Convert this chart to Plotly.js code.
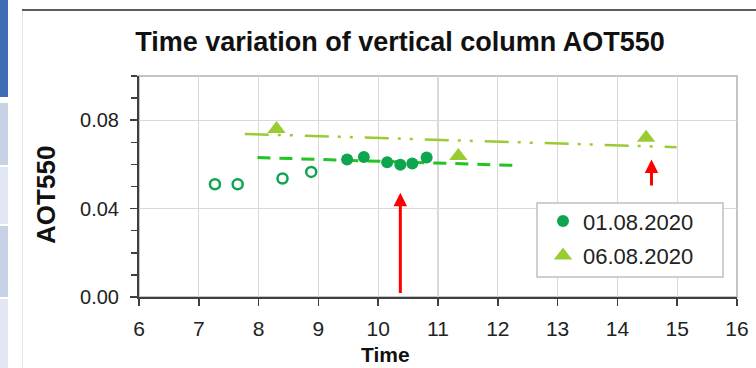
<!DOCTYPE html>
<html>
<head>
<meta charset="utf-8">
<script src="https://cdn.plot.ly/plotly-3.0.1.min.js"></script>
<style>
  html, body { margin: 0; padding: 0; background: #ffffff; }
  #wrap { position: relative; width: 756px; height: 368px; overflow: hidden; background: #ffffff; }
  .deco { position: absolute; }
  #chart { position: absolute; left: 0; top: 0; width: 756px; height: 368px; }
</style>
</head>
<body>
<div id="wrap">
  <div class="deco" style="left:0;top:0;width:8px;height:97px;background:#3f6db5;"></div>
  <div class="deco" style="left:0;top:103px;width:8px;height:62px;background:#c8d2e7;"></div>
  <div class="deco" style="left:0;top:167px;width:8px;height:57px;background:#e0e6f2;"></div>
  <div class="deco" style="left:0;top:226px;width:8px;height:71px;background:#c8d2e7;"></div>
  <div class="deco" style="left:0;top:299px;width:8px;height:69px;background:#e2e7f3;"></div>
  <div class="deco" style="left:22px;top:10px;width:1px;height:358px;background:#e6e6e6;"></div>
  <div class="deco" style="left:22px;top:9px;width:734px;height:2px;background:#5a5a5a;"></div>
  <div id="chart"></div>
</div>
<script>
// ---- data ----
var series1Name = '01.08.2020';
var series2Name = '06.08.2020';

// 01.08.2020 filled points
var s1Time = [9.48, 9.76, 10.15, 10.37, 10.57, 10.81];
var s1Aot  = [0.0622, 0.0634, 0.0610, 0.0598, 0.0604, 0.0631];

// 01.08.2020 open (early) points
var s1OpenTime = [7.27, 7.65, 8.40, 8.88];
var s1OpenAot  = [0.0510, 0.0510, 0.0536, 0.0566];

// 06.08.2020 points
var s2Time = [8.30, 11.34, 14.48];
var s2Aot  = [0.0760, 0.0638, 0.0721];

// trend lines (end points as drawn)
var trend1Time = [7.98, 12.32];
var trend1Aot  = [0.0631, 0.0595];
var trend2Time = [7.77, 14.99];
var trend2Aot  = [0.0738, 0.0678];

// red arrows: x, tail value, head value
var arrowTime = [10.37, 14.57];
var arrowTail = [0.0011, 0.0498];
var arrowHead = [0.0472, 0.0622];

var xTickVals = [6, 7, 8, 9, 10, 11, 12, 13, 14, 15, 16];

var font = 'Liberation Sans, Arial, Helvetica, sans-serif';

var traces = [
  {
    x: trend2Time, y: trend2Aot, mode: 'lines', showlegend: false, hoverinfo: 'skip',
    line: { color: '#99cc33', width: 2.5, dash: '24px,9px,3px,9px,3px,12px' }
  },
  {
    x: trend1Time, y: trend1Aot, mode: 'lines', showlegend: false, hoverinfo: 'skip',
    line: { color: '#22c322', width: 3, dash: '13px,9px' }
  },
  {
    x: s1OpenTime, y: s1OpenAot, mode: 'markers', showlegend: false,
    marker: { symbol: 'circle-open', size: 10, color: '#0ea550', line: { width: 2.5, color: '#0ea550' } }
  },
  {
    x: s1Time, y: s1Aot, mode: 'markers', name: series1Name, legendgroup: 'g1',
    marker: { symbol: 'circle', size: 12, color: '#0ea550' }
  },
  {
    x: s2Time, y: s2Aot, mode: 'markers', name: series2Name, legendgroup: 'g2',
    marker: { symbol: 'triangle-up', size: 16, color: '#99cc33' }
  }
];

var annotations = [
  {
    text: '<b>Time</b>', xref: 'paper', yref: 'paper', x: 0.413, y: -0.262,
    xanchor: 'center', yanchor: 'middle', showarrow: false,
    font: { family: font, size: 21, color: '#111111' }
  },
  {
    text: '<b>AOT550</b>', xref: 'paper', yref: 'paper', x: -0.1555, y: 0.462,
    xanchor: 'center', yanchor: 'middle', showarrow: false, textangle: -90,
    font: { family: font, size: 26, color: '#111111' }
  }
];
for (var i = 0; i < arrowTime.length; i++) {
  annotations.push({
    text: '', x: arrowTime[i], y: arrowHead[i], ax: arrowTime[i], ay: arrowTail[i],
    xref: 'x', yref: 'y', axref: 'x', ayref: 'y',
    showarrow: true, arrowhead: 2, arrowsize: 0.9, arrowwidth: 3, arrowcolor: '#ff0000', standoff: 0
  });
}

var layout = {
  width: 756, height: 368,
  margin: { l: 139, r: 19, t: 76, b: 71 },
  paper_bgcolor: 'rgba(0,0,0,0)',
  plot_bgcolor: '#ffffff',
  font: { family: font, size: 20, color: '#222222' },
  title: {
    text: '<b>Time variation of vertical column AOT550</b>',
    xref: 'container', yref: 'container', x: 400 / 756, y: 1 - 42 / 368,
    xanchor: 'center', yanchor: 'middle',
    font: { family: font, size: 27, color: '#111111' }
  },
  xaxis: {
    range: [6, 16], tickmode: 'array', tickvals: xTickVals,
    showgrid: true, gridcolor: '#d9d9d9', gridwidth: 1.3, zeroline: false,
    showline: true, linecolor: '#404040', linewidth: 2,
    ticks: 'outside', ticklen: 7, tickwidth: 1.5, tickcolor: '#404040',
    tickfont: { family: font, size: 21, color: '#222222' },
    ticklabelstandoff: 5
  },
  yaxis: {
    range: [0, 0.1], tickmode: 'linear', tick0: 0, dtick: 0.04, tickformat: '.2f',
    showgrid: true, gridcolor: '#d9d9d9', gridwidth: 1.3, zeroline: false,
    showline: true, linecolor: '#404040', linewidth: 2,
    ticks: 'outside', ticklen: 7, tickwidth: 1.5, tickcolor: '#404040',
    tickfont: { family: font, size: 20, color: '#222222' },
    ticklabelstandoff: 7,
    minor: { dtick: 0.01, tick0: 0, ticks: 'outside', ticklen: 6, tickwidth: 1.5, tickcolor: '#404040', showgrid: false }
  },
  shapes: [
    {
      type: 'rect', xref: 'paper', yref: 'paper', x0: 0, x1: 1, y0: 0, y1: 1,
      line: { color: '#c4c4c4', width: 2 }, layer: 'below'
    },
    {
      type: 'rect', xref: 'paper', yref: 'paper', x0: 0.6656, x1: 0.9766, y0: 0.0905, y1: 0.4253,
      line: { color: '#c0c0c0', width: 1.5 }, fillcolor: '#ffffff', layer: 'above'
    }
  ],
  legend: {
    x: 0.6756, xanchor: 'left', y: 0.438, yanchor: 'top',
    bgcolor: 'rgba(0,0,0,0)', borderwidth: 0,
    font: { family: font, size: 22, color: '#222222' },
    tracegroupgap: 3
  },
  annotations: annotations,
  showlegend: true
};

Plotly.newPlot('chart', traces, layout, { displayModeBar: false, staticPlot: true });
</script>
</body>
</html>
